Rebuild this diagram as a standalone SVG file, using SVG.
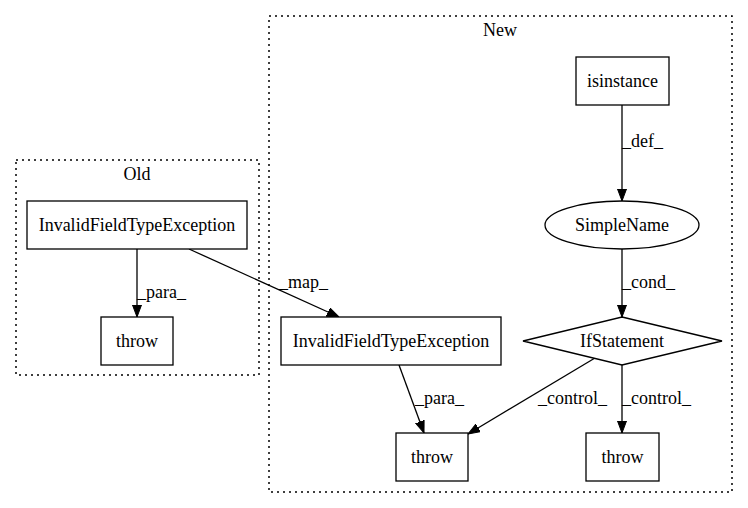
<svg xmlns="http://www.w3.org/2000/svg" width="748" height="508" viewBox="0 0 748 508">
<style>
text{font-family:"Liberation Serif","Times New Roman",serif;font-size:18px;fill:#000}
.c{text-anchor:middle}
.cl{fill:none;stroke:#000;stroke-dasharray:2,4;stroke-width:1.5}
.n{fill:#fff;stroke:#000;stroke-width:1.3}
.e{fill:none;stroke:#000;stroke-width:1.3}
</style>
<defs>
<marker id="ah" markerWidth="12" markerHeight="10" refX="12" refY="5" orient="auto" markerUnits="userSpaceOnUse">
<path d="M0,0.5 L12,5 L0,9.5 z" fill="#000" stroke="#000"/>
</marker>
</defs>
<rect width="748" height="508" fill="#fff"/>
<g id="cluster_old">
<rect class="cl" x="16" y="160" width="243" height="215"/>
<text class="c" x="137" y="180">Old</text>
</g>
<g id="cluster_new">
<rect class="cl" x="269" y="16" width="463" height="476"/>
<text class="c" x="500" y="36">New</text>
</g>
<g id="edges">
<line class="e" x1="137" y1="249" x2="137" y2="317" marker-end="url(#ah)"/>
<text x="137" y="298">_para_</text>
<line class="e" x1="189" y1="249" x2="339" y2="317" marker-end="url(#ah)"/>
<text x="279" y="288">_map_</text>
<line class="e" x1="622" y1="105" x2="622" y2="201" marker-end="url(#ah)"/>
<text x="622" y="147">_def_</text>
<line class="e" x1="622" y1="249" x2="622" y2="317" marker-end="url(#ah)"/>
<text x="622" y="288">_cond_</text>
<line class="e" x1="399" y1="365" x2="424" y2="433" marker-end="url(#ah)"/>
<text x="415" y="404">_para_</text>
<line class="e" x1="595" y1="358" x2="468" y2="434" marker-end="url(#ah)"/>
<text x="538" y="404">_control_</text>
<line class="e" x1="622" y1="365" x2="622" y2="433" marker-end="url(#ah)"/>
<text x="622" y="404">_control_</text>
</g>
<g id="old_ifte">
<rect class="n" x="27" y="201" width="220" height="48"/>
<text class="c" x="137" y="231">InvalidFieldTypeException</text>
</g>
<g id="old_throw">
<rect class="n" x="101" y="317" width="72" height="48"/>
<text class="c" x="137" y="347">throw</text>
</g>
<g id="isinstance">
<rect class="n" x="576" y="57" width="93" height="48"/>
<text class="c" x="622.5" y="87">isinstance</text>
</g>
<g id="simplename">
<ellipse class="n" cx="622" cy="225" rx="77" ry="24"/>
<text class="c" x="622" y="231">SimpleName</text>
</g>
<g id="ifstatement">
<polygon class="n" points="622,317 722,341 622,365 523,341"/>
<text class="c" x="622" y="347">IfStatement</text>
</g>
<g id="new_ifte">
<rect class="n" x="281" y="317" width="220" height="48"/>
<text class="c" x="391" y="347">InvalidFieldTypeException</text>
</g>
<g id="new_throw1">
<rect class="n" x="396" y="433" width="72" height="48"/>
<text class="c" x="432" y="463">throw</text>
</g>
<g id="new_throw2">
<rect class="n" x="586" y="433" width="73" height="48"/>
<text class="c" x="622.5" y="463">throw</text>
</g>
</svg>
